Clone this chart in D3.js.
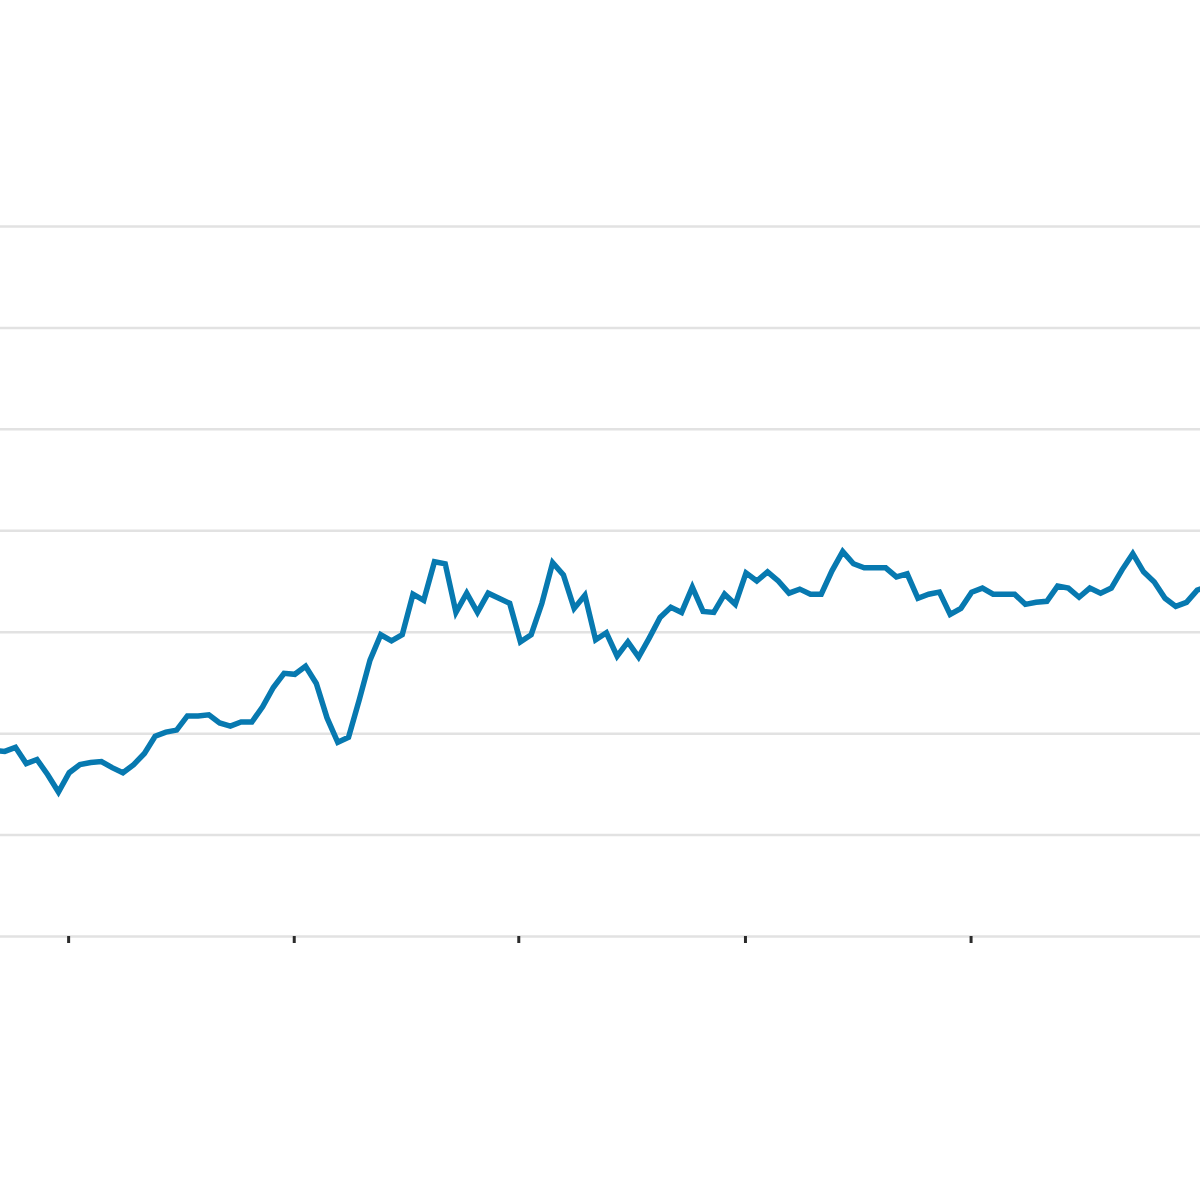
<!DOCTYPE html>
<html>
<head>
<meta charset="utf-8">
<script src="https://cdn.jsdelivr.net/npm/d3@7"></script>
<style>
  html, body { margin: 0; padding: 0; background: #fff; }
  svg { display: block; font-family: "Liberation Sans", Arial, sans-serif; }
  .grid line { stroke: #e2e2e2; stroke-width: 2.5; }
  .x.axis line { stroke: #2b2b2b; stroke-width: 3; }
</style>
</head>
<body>
<div id="chart"></div>
<script>
// series values, one per period (left to right)
var values = [
  18.3, 18.2, 18.6, 17.0, 17.4, 15.9, 14.2, 16.1, 16.9, 17.1,
  17.2, 16.6, 16.1, 16.9, 18.0, 19.7, 20.1, 20.3, 21.7, 21.7,
  21.8, 21.0, 20.7, 21.1, 21.1, 22.6, 24.5, 25.9, 25.8, 26.6,
  24.9, 21.5, 19.1, 19.6, 23.3, 27.2, 29.7, 29.1, 29.7, 33.7,
  33.1, 36.9, 36.7, 31.9, 33.8, 31.9, 33.8, 33.3, 32.8, 29.0,
  29.7, 32.8, 36.8, 35.6, 32.3, 33.6, 29.2, 29.9, 27.6, 29.0,
  27.5, 29.4, 31.4, 32.4, 31.9, 34.4, 32.0, 31.9, 33.7, 32.7,
  35.8, 35.0, 35.9, 35.0, 33.8, 34.2, 33.7, 33.7, 36.0, 37.9,
  36.7, 36.3, 36.3, 36.3, 35.4, 35.7, 33.3, 33.7, 33.9, 31.7,
  32.3, 33.9, 34.3, 33.7, 33.7, 33.7, 32.7, 32.9, 33.0, 34.5,
  34.3, 33.4, 34.3, 33.8, 34.3, 36.1, 37.7, 35.9, 34.9, 33.3,
  32.5, 32.9, 34.1, 34.5
]

// gridline values on the y axis
var gridValues = [0, 10, 20, 30, 40, 50, 60, 70]

// x tick positions (in periods)
var xTicks = [6.9, 27.9, 48.8, 69.9, 90.9]

var width = 1200
var height = 1200

var svg = d3.select("#chart").append("svg")
  .attr("width", width)
  .attr("height", height)

var x = d3.scaleLinear()
  .domain([0, values.length - 1])
  .range([-6, 1208])

var y = d3.scaleLinear()
  .domain([0, 70])
  .range([936, 226])

// horizontal gridlines
var grid = svg.append("g")
  .attr("class", "grid")
  .call(d3.axisLeft(y).tickValues(gridValues).tickSize(-width).tickFormat(""))
grid.select(".domain").remove()

// bottom ticks
var xAxis = svg.append("g")
  .attr("class", "x axis")
  .attr("transform", "translate(0," + y(0) + ")")
  .call(d3.axisBottom(x).tickValues(xTicks).tickSize(7).tickFormat(""))
xAxis.select(".domain").remove()

var line = d3.line()
  .x(function(d, i) { return x(i) })
  .y(function(d) { return y(d) })

svg.append("path")
  .datum(values)
  .attr("fill", "none")
  .attr("stroke", "#0779b0")
  .attr("stroke-width", 5.5)
  .attr("d", line)
</script>
</body>
</html>
